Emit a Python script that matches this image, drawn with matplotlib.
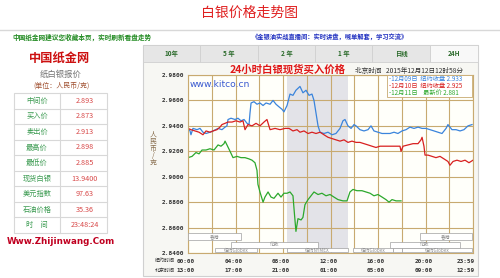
import matplotlib
matplotlib.use("Agg")
import matplotlib.pyplot as plt
from matplotlib.patches import Rectangle
import matplotlib.transforms as mtrans

CJK = ['Noto Sans CJK SC', 'DejaVu Sans']
MONO = ['DejaVu Sans Mono', 'Noto Sans CJK SC']

# ---------------- data ----------------
blue_h = [0.00, 0.17, 0.25, 0.42, 0.76, 1.01, 1.26, 1.52, 1.85, 2.11, 2.53, 2.86, 3.12, 3.28, 3.37,
          3.62, 3.96, 4.21, 4.46, 4.72, 4.97, 5.14, 5.22, 5.31, 5.56, 5.81, 6.06, 6.32, 6.57, 6.91,
          7.16, 7.41, 7.66, 7.92, 8.08, 8.34, 8.59, 8.84, 9.09, 9.43, 9.68, 9.94, 10.19, 10.44, 10.61,
          10.78, 10.95, 11.12, 11.45, 11.79, 12.13, 12.46, 12.80, 13.05, 13.22, 13.47, 13.73, 13.98,
          14.15, 14.48, 14.82, 15.16, 15.41, 15.66, 16.00, 16.34, 16.67, 17.01, 17.35, 17.68, 18.02,
          18.36, 18.69, 19.03, 19.37, 19.71, 20.04, 20.38, 20.72, 21.05, 21.39, 21.73, 21.89, 22.23,
          22.57, 22.91, 23.24, 23.58, 23.92]
blue_v = [2.938, 2.936, 2.933, 2.938, 2.937, 2.938, 2.935, 2.934, 2.935, 2.936, 2.938, 2.937, 2.939, 2.940, 2.945,
          2.946, 2.945, 2.946, 2.944, 2.945, 2.942, 2.941, 2.950, 2.958, 2.959, 2.957, 2.958, 2.956, 2.958, 2.957,
          2.960, 2.957, 2.955, 2.953, 2.951, 2.956, 2.965, 2.964, 2.968, 2.971, 2.966, 2.968, 2.964, 2.965, 2.960,
          2.950, 2.940, 2.935, 2.934, 2.935, 2.933, 2.934, 2.938, 2.944, 2.945, 2.940, 2.938, 2.941,
          2.940, 2.937, 2.936, 2.937, 2.940, 2.936, 2.935, 2.934, 2.934, 2.934, 2.935, 2.934, 2.936,
          2.937, 2.939, 2.938, 2.939, 2.938, 2.938, 2.937, 2.936, 2.935, 2.934, 2.938, 2.941, 2.937,
          2.937, 2.936, 2.937, 2.940, 2.941]

red_h = [0.00, 0.25, 0.59, 0.93, 1.26, 1.52, 1.85, 2.11, 2.44, 2.69, 2.86, 3.12, 3.37, 3.71, 4.04,
         4.38, 4.63, 4.80, 5.05, 5.39, 5.73, 6.06, 6.40, 6.65, 6.91, 7.33, 7.75, 8.17, 8.51, 8.84,
         9.18, 9.43, 9.77, 10.11, 10.44, 10.78, 11.12, 11.45, 11.79, 12.13, 12.46, 12.80, 13.14, 13.47,
         13.81, 14.15, 14.48, 14.82, 15.16, 15.49, 15.83, 16.17, 16.59, 17.01, 17.43, 17.85, 17.94,
         18.11, 18.53, 18.95, 19.37, 19.62, 19.71, 19.87, 19.96, 20.21, 20.55, 20.88, 21.22, 21.56,
         21.89, 22.06, 22.32, 22.65, 22.99, 23.33, 23.66, 24.00]
red_v = [2.938, 2.937, 2.936, 2.935, 2.933, 2.936, 2.935, 2.936, 2.937, 2.939, 2.941, 2.942, 2.943, 2.943, 2.944,
         2.943, 2.944, 2.937, 2.941, 2.940, 2.942, 2.940, 2.943, 2.945, 2.937, 2.938, 2.937, 2.938, 2.938, 2.936,
         2.937, 2.935, 2.936, 2.934, 2.935, 2.934, 2.935, 2.933, 2.931, 2.930, 2.929, 2.928, 2.929, 2.927,
         2.928, 2.927, 2.927, 2.926, 2.925, 2.924, 2.923, 2.924, 2.924, 2.924, 2.924, 2.924, 2.920,
         2.924, 2.925, 2.926, 2.926, 2.929, 2.931, 2.924, 2.917, 2.917, 2.916, 2.915, 2.916, 2.914,
         2.912, 2.909, 2.912, 2.913, 2.912, 2.913, 2.911, 2.913]

green_h = [0.00, 0.34, 0.67, 0.93, 1.18, 1.52, 1.85, 2.19, 2.53, 2.78, 3.03, 3.12, 3.28, 3.54, 3.79,
           4.13, 4.46, 4.80, 5.14, 5.39, 5.64, 5.81, 5.89, 6.06, 6.32, 6.48, 6.74, 6.99, 7.24, 7.58,
           7.83, 8.08, 8.34, 8.59, 8.84, 8.97, 9.09, 9.26, 9.52, 9.68, 9.85, 10.11, 10.36, 10.61,
           10.95, 11.28, 11.62, 11.96, 12.29, 12.63, 13.05, 13.39, 13.64, 13.89, 14.23, 14.65, 14.99,
           15.33, 15.66, 16.00, 16.34, 16.67, 16.93, 17.18, 17.52, 17.94]
green_v = [2.915, 2.916, 2.919, 2.918, 2.921, 2.921, 2.922, 2.921, 2.925, 2.924, 2.926, 2.928, 2.925, 2.920, 2.915,
           2.916, 2.915, 2.915, 2.914, 2.913, 2.911, 2.905, 2.894, 2.888, 2.880, 2.884, 2.888, 2.884, 2.883, 2.887,
           2.884, 2.887, 2.887, 2.888, 2.885, 2.870, 2.857, 2.867, 2.866, 2.868, 2.878, 2.882, 2.885, 2.888,
           2.886, 2.887, 2.885, 2.886, 2.884, 2.882, 2.881, 2.881, 2.888, 2.890, 2.889, 2.889, 2.888,
           2.887, 2.885, 2.886, 2.884, 2.882, 2.880, 2.882, 2.881, 2.881]

series_dates = ['12月09日', '12月10日', '12月11日']
series_kinds = ['纽约收盘', '纽约收盘', '  最新价']
series_close = [2.933, 2.925, 2.881]
series_colors = ['#3a84dc', '#d82020', '#2ca82c']

y_ticks = [2.84, 2.86, 2.88, 2.90, 2.92, 2.94, 2.96, 2.98]
x_tick_hours = [0, 4, 8, 12, 16, 20, 24]
ny_labels = ['00:00', '04:00', '08:00', '12:00', '16:00', '20:00', '23:59']
bj_labels = ['13:00', '17:00', '21:00', '01:00', '05:00', '09:00', '12:59']
comex_span = (8.34, 13.47)

sessions = [('香港', 0.0, 4.5, 0), ('香港', 19.5, 23.9, 0),
            ('伦敦', 3.6, 10.95, 1), ('伦敦', 17.0, 22.9, 1),
            ('纽约Globex', 2.25, 5.8, 2), ('纽约NYMEX', 8.34, 13.47, 2),
            ('纽约Globex', 13.9, 17.3, 2), ('', 17.3, 18.0, 2), ('纽约Globex', 18.0, 23.9, 2)]

tabs = ['10年', '5 年', '2 年', '1 年', '日线', '24H']

table_names = ['中间价', '买入价', '卖出价', '最高价', '最低价', '现货白银', '美元指数', '石油价格', '时　间']
table_values = ['2.893', '2.873', '2.913', '2.898', '2.885', '13.9400', '97.63', '35.36', '23:48:24']

# ---------------- figure ----------------
W, H = 500, 278
fig = plt.figure(figsize=(5, 2.78), dpi=100)
fig.patch.set_facecolor('white')

bg = fig.add_axes([0, 0, 1, 1], zorder=0)
bg.set_xlim(0, W); bg.set_ylim(H, 0); bg.axis('off')

# top title
bg.text(250, 13, '白银价格走势图', color='#e02020', fontsize=10, ha='center', va='center', family=CJK)
bg.plot([0, W], [29.5, 29.5], color='#d8d8d8', lw=1)
bg.text(12, 37, '中国纸金网建议您收藏本页，实时刷新看盘走势', color='#208a20', fontsize=4.8,
        ha='left', va='center', family=CJK, fontweight='bold')
bg.text(330, 37, '《金银油实战直播间：实时讲盘，喊单解套，学习交流》', color='#2030c0', fontsize=4.5,
        ha='center', va='center', family=CJK, fontweight='bold')

# left panel
bg.text(60, 58, '中国纸金网', color='#cc1010', fontsize=8.8, ha='center', va='center',
        family=CJK, fontweight='bold')
bg.text(61, 74, '纸白银报价', color='#707070', fontsize=6, ha='center', va='center', family=CJK)
bg.text(61, 85.5, '(单位：人民币/克)', color='#a05030', fontsize=5, ha='center', va='center', family=CJK)
t_top, t_bot, t_l, t_m, t_r = 93, 233, 14, 60, 107
rh = (t_bot - t_top) / len(table_names)
bg.add_patch(Rectangle((t_l, t_top), t_r - t_l, t_bot - t_top, fc='white', ec='#d8d8d8', lw=0.8))
bg.plot([t_m, t_m], [t_top, t_bot], color='#d8d8d8', lw=0.8)
for i, (nm, val) in enumerate(zip(table_names, table_values)):
    yc = t_top + rh * (i + 0.5)
    if i > 0:
        bg.plot([t_l, t_r], [t_top + rh * i] * 2, color='#d8d8d8', lw=0.8)
    bg.text((t_l + t_m) / 2, yc, nm, color='#3a9a50', fontsize=5.2, ha='center', va='center', family=CJK)
    bg.text((t_m + t_r) / 2 + 1, yc, val, color='#d84848', fontsize=5.2, ha='center', va='center', family=CJK)
bg.text(61, 241.5, 'Www.Zhijinwang.Com', color='#c00020', fontsize=6.3, ha='center', va='center',
        fontweight='bold', family='DejaVu Sans')

# right panel
px0, px1, py0, py1 = 143, 478, 45, 276
bg.add_patch(Rectangle((px0, py0), px1 - px0, py1 - py0, fc='#f7f7f3', ec='#d0d0d0', lw=0.8))
tab_edges = [143, 200, 258, 315, 372, 430, 478]
for i, tb in enumerate(tabs):
    sel = (i == len(tabs) - 1)
    bg.add_patch(Rectangle((tab_edges[i], 45), tab_edges[i + 1] - tab_edges[i], 16.5,
                           fc='#f8f8f8' if sel else '#e6e6e6', ec='#d0d0d0', lw=0.6))
    bg.text((tab_edges[i] + tab_edges[i + 1]) / 2, 53.5, tb, color='#2a6a2a', fontsize=4.6,
            ha='center', va='center', family=CJK, fontweight='bold')

# y label stacked
for k, ch in enumerate('人民币/克'):
    bg.text(153, 135 + k * 7, ch, color='#8a7050', fontsize=5, ha='center', va='center', family=CJK)

bg.text(175, 261, '纽约时间', color='#303030', fontsize=3.6, ha='right', va='center', family=CJK)
bg.text(175, 270, '北京时间', color='#303030', fontsize=3.6, ha='right', va='center', family=CJK)

# ---------------- data axes ----------------
GRID = '#c8aa70'
ax = fig.add_axes([188 / W, (H - 253) / H, 285 / W, 178 / H], zorder=1)
ax.set_facecolor('#fffffa')
ax.set_xlim(0, 24)
ax.set_ylim(2.84, 2.98)
ax.set_xticks(range(0, 25, 2))
ax.set_xticklabels([])
ax.set_yticks(y_ticks)
ax.set_yticklabels(['%.4f' % v for v in y_ticks], family=MONO, fontsize=4.4, fontweight='bold', color='#303030')
ax.tick_params(length=0, pad=3)
ax.grid(True, color=GRID, lw=0.8)
ax.set_axisbelow(True)
for s in ax.spines.values():
    s.set_color(GRID); s.set_linewidth(0.8)
ax.axvspan(*comex_span, color='#e3e3e8', zorder=0.1, lw=0)

for hh, vv, col in zip([blue_h, red_h, green_h], [blue_v, red_v, green_v], series_colors):
    ax.plot(hh, vv, color=col, lw=0.9, zorder=2)

# trading sessions
row_y = [(2.8502, 2.8557), (2.8443, 2.8490), (2.8405, 2.8439)]
for name, a, b, r in sessions:
    y0, y1 = row_y[r]
    ax.add_patch(Rectangle((a, y0), b - a, y1 - y0, fc='white', ec='#a0a0a0', lw=0.5, zorder=3))
    if name:
        ax.text((a + b) / 2, (y0 + y1) / 2, name, color='#909090', fontsize=3.4, ha='center',
                va='center', family=CJK, zorder=4)

# x tick labels
xt = ax.get_xaxis_transform()
for i, (h_, a_, b_) in enumerate(zip(x_tick_hours, ny_labels, bj_labels)):
    last = i == len(x_tick_hours) - 1
    off = mtrans.offset_copy(xt, fig=fig, x=(2 if last else -2), y=0, units='dots')
    ha = 'right' if last else 'center'
    ax.text(h_, -0.045, a_, transform=off, ha=ha, va='center', fontsize=4.3, family=MONO,
            fontweight='bold', color='#303030', clip_on=False)
    ax.text(h_, -0.096, b_, transform=off, ha=ha, va='center', fontsize=4.3, family=MONO,
            fontweight='bold', color='#303030', clip_on=False)

# ---------------- foreground overlay ----------------
fg = fig.add_axes([0, 0, 1, 1], zorder=5)
fg.set_xlim(0, W); fg.set_ylim(H, 0); fg.axis('off'); fg.patch.set_alpha(0)
fg.text(230, 70, '24小时白银现货买入价格', color='#e01818', fontsize=7.5, ha='left', va='center',
        family=CJK, fontweight='bold')
fg.text(355, 71.5, '北京时间   2015年12月12日12时58分', color='#303030', fontsize=4.8,
        ha='left', va='center', family=CJK)
fg.text(190, 84.5, 'www.kitco.cn', color='#3a5ad0', fontsize=6.6, ha='left', va='center', family='DejaVu Sans')
fg.add_patch(Rectangle((387, 75), 85, 22, fc='white', ec=GRID, lw=0.6))
for k, (d, kind, c, col) in enumerate(zip(series_dates, series_kinds, series_close, series_colors)):
    fg.text(389, 78.5 + k * 7, '-%s  %s %.3f' % (d, kind, c), color=col, fontsize=4.5,
            ha='left', va='center', family=CJK)

fig.savefig('out.png', dpi=100)
